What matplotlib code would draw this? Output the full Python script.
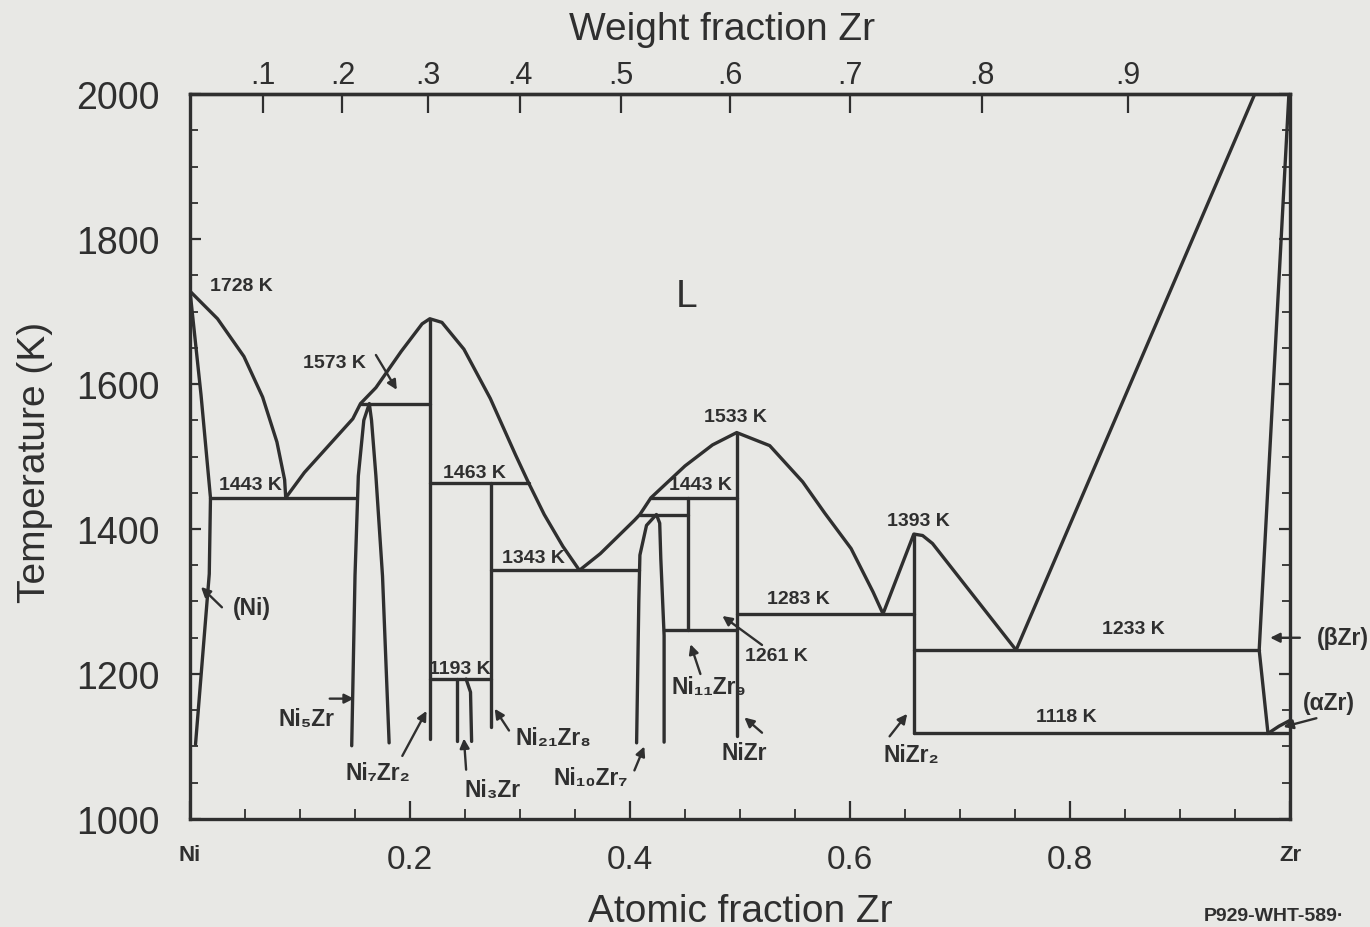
import numpy as np
import matplotlib
matplotlib.use("Agg")
import matplotlib.pyplot as plt

plt.rcParams['font.family'] = ['Liberation Sans', 'DejaVu Sans']

M_NI = 58.693
M_ZR = 91.224

INK = '#2f2f2f'
PAPER = '#e8e8e5'

# liquidus, split at the invariant points
liq_ni_x = [0.0, 0.025, 0.049, 0.066, 0.079, 0.086, 0.087]
liq_ni_T = [1728, 1690, 1638, 1582, 1520, 1468, 1443]
liq_a_x = [0.087, 0.104, 0.126, 0.148, 0.155, 0.169, 0.192, 0.211, 0.218, 0.229, 0.249, 0.273, 0.296, 0.308]
liq_a_T = [1443, 1478, 1515, 1552, 1573, 1595, 1645, 1683, 1690, 1685, 1648, 1580, 1502, 1463]
liq_b_x = [0.308, 0.322, 0.339, 0.354]
liq_b_T = [1463, 1420, 1376, 1343]
liq_c_x = [0.354, 0.373, 0.404, 0.409, 0.419, 0.450, 0.475, 0.497, 0.527, 0.557, 0.577, 0.601, 0.621, 0.630]
liq_c_T = [1343, 1366, 1412, 1420, 1443, 1487, 1516, 1533, 1515, 1465, 1422, 1373, 1313, 1283]
liq_d_x = [0.630, 0.658, 0.666, 0.675, 0.751]
liq_d_T = [1283, 1393, 1391, 1380, 1233]
liq_zr_x = [0.751, 0.968]
liq_zr_T = [1233, 2000]

# (Ni) solid solution: solidus then solvus
ni_ss_x = [0.0, 0.010, 0.0186, 0.0175, 0.005]
ni_ss_T = [1728, 1585, 1443, 1338, 1103]

# (beta Zr) boundary and (alpha Zr) boundary
bzr_x = [0.999, 0.972, 0.980]
bzr_T = [2000, 1233, 1118]
azr_x = [0.980, 0.990, 1.0]
azr_T = [1118, 1128, 1136]

# horizontal invariant lines
inv_T = [1443, 1573, 1463, 1343, 1420, 1443, 1261, 1283, 1193, 1233, 1118]
inv_x0 = [0.0186, 0.155, 0.218, 0.274, 0.409, 0.419, 0.431, 0.497, 0.218, 0.658, 0.658]
inv_x1 = [0.150, 0.218, 0.308, 0.408, 0.453, 0.497, 0.497, 0.658, 0.274, 0.972, 1.0]

# line compounds
cmp_x = [0.218, 0.274, 0.453, 0.497, 0.658]
cmp_top = [1690, 1463, 1443, 1533, 1393]
cmp_bot = [1110, 1127, 1261, 1114, 1118]

# narrow homogeneity ranges
ni5zr_x = [0.147, 0.150, 0.153, 0.158, 0.163, 0.165, 0.169, 0.175, 0.181]
ni5zr_T = [1101, 1336, 1473, 1550, 1573, 1550, 1473, 1335, 1105]
ni10zr7_x = [0.406, 0.408, 0.409, 0.415, 0.424, 0.427, 0.428, 0.431, 0.431]
ni10zr7_T = [1105, 1300, 1364, 1405, 1420, 1408, 1359, 1253, 1106]
ni3zr_l_x = [0.243, 0.243]
ni3zr_l_T = [1107, 1193]
ni3zr_r_x = [0.251, 0.255, 0.256]
ni3zr_r_T = [1193, 1175, 1107]

# temperature labels
val_K = [1728, 1573, 1443, 1463, 1343, 1533, 1443, 1283, 1261, 1393, 1233, 1118, 1193]
val_x = [0.047, 0.131, 0.055, 0.259, 0.312, 0.496, 0.464, 0.553, 0.533, 0.662, 0.858, 0.797, 0.245]
val_T = [1736, 1630, 1462, 1478, 1361, 1555, 1462, 1304, 1225, 1412, 1263, 1141, 1208]

# phase labels with arrows: text position, arrow tail, arrow tip
ph_text = ['(Ni)', 'Ni₅Zr', 'Ni₇Zr₂', 'Ni₃Zr', 'Ni₂₁Zr₈', 'Ni₁₀Zr₇',
           'Ni₁₁Zr₉', 'NiZr', 'NiZr₂', '(βZr)', '(αZr)']
ph_x = [0.056, 0.106, 0.171, 0.275, 0.330, 0.364, 0.472, 0.504, 0.656, 1.048, 1.035]
ph_T = [1292, 1139, 1064, 1041, 1112, 1057, 1183, 1092, 1089, 1250, 1160]
tail_x = [0.029, 0.127, 0.193, 0.251, 0.290, 0.404, 0.464, 0.520, 0.636, 1.009, 1.024]
tail_T = [1292, 1166, 1087, 1068, 1122, 1067, 1200, 1119, 1114, 1250, 1139]
tip_x = [0.010, 0.149, 0.215, 0.249, 0.277, 0.413, 0.455, 0.504, 0.652, 0.982, 0.994]
tip_T = [1320, 1166, 1149, 1111, 1152, 1100, 1241, 1140, 1145, 1250, 1127]

# extra arrows for the 1573 K and 1261 K labels
ext_tail_x = [0.169, 0.520]
ext_tail_T = [1640, 1240]
ext_tip_x = [0.188, 0.484]
ext_tip_T = [1592, 1280]

wt_ticks = [0.1, 0.2, 0.3, 0.4, 0.5, 0.6, 0.7, 0.8, 0.9]


def at_to_wt(x):
    x = np.asarray(x, dtype=float)
    return x * M_ZR / (x * M_ZR + (1 - x) * M_NI)


def wt_to_at(w):
    w = np.asarray(w, dtype=float)
    return (w / M_ZR) / (w / M_ZR + (1 - w) / M_NI)


fig = plt.figure(figsize=(13.7, 9.28), dpi=100, facecolor=PAPER)
ax = fig.add_axes([0.1387, 0.1164, 0.8029, 0.7812], facecolor=PAPER)

line_kw = dict(color=INK, lw=2.4, solid_capstyle='round', solid_joinstyle='round')

for xs, ts in [(liq_ni_x, liq_ni_T), (liq_a_x, liq_a_T), (liq_b_x, liq_b_T),
               (liq_c_x, liq_c_T), (liq_d_x, liq_d_T), (liq_zr_x, liq_zr_T),
               (ni_ss_x, ni_ss_T), (bzr_x, bzr_T), (azr_x, azr_T),
               (ni5zr_x, ni5zr_T), (ni10zr7_x, ni10zr7_T),
               (ni3zr_l_x, ni3zr_l_T), (ni3zr_r_x, ni3zr_r_T)]:
    ax.plot(xs, ts, **line_kw)

for t, x0, x1 in zip(inv_T, inv_x0, inv_x1):
    ax.plot([x0, x1], [t, t], **line_kw)

for x, t0, t1 in zip(cmp_x, cmp_top, cmp_bot):
    ax.plot([x, x], [t0, t1], **line_kw)

for k, x, t in zip(val_K, val_x, val_T):
    ax.text(x, t, f'{k} K', ha='center', va='center', fontsize=14,
            fontweight='bold', color=INK)

arrow_kw = dict(arrowstyle='-|>', color=INK, lw=1.7, mutation_scale=14,
                shrinkA=0, shrinkB=0)

for s, x, t, ax0, at0, ax1, at1 in zip(ph_text, ph_x, ph_T, tail_x, tail_T, tip_x, tip_T):
    ax.text(x, t, s, ha='center', va='center', fontsize=16.5, fontweight='bold',
            color=INK, clip_on=False)
    ax.annotate('', xy=(ax1, at1), xytext=(ax0, at0), arrowprops=arrow_kw,
                annotation_clip=False)

for ax0, at0, ax1, at1 in zip(ext_tail_x, ext_tail_T, ext_tip_x, ext_tip_T):
    ax.annotate('', xy=(ax1, at1), xytext=(ax0, at0), arrowprops=arrow_kw,
                annotation_clip=False)

ax.text(0.451, 1721, 'L', ha='center', va='center', fontsize=28, color=INK)

# axes, ticks
ax.set_xlim(0, 1)
ax.set_ylim(1000, 2000)
ax.set_xticks([0, 0.2, 0.4, 0.6, 0.8, 1.0])
ax.set_xticklabels(['Ni', '0.2', '0.4', '0.6', '0.8', 'Zr'])
ax.set_xticks(np.arange(0, 1.001, 0.05), minor=True)
ax.set_yticks(np.arange(1000, 2001, 200))
ax.set_yticks(np.arange(1000, 2001, 50), minor=True)

ax.tick_params(axis='both', which='both', direction='in', color=INK, labelcolor=INK)
ax.tick_params(axis='x', which='major', length=13, width=1.6, labelsize=24, pad=18)
ax.tick_params(axis='x', which='minor', length=7, width=1.3)
ax.tick_params(axis='y', which='major', length=8, width=1.6, labelsize=27, pad=22, right=True)
ax.tick_params(axis='y', which='minor', length=6, width=1.3, right=True)
for lbl in ax.get_xticklabels():
    if lbl.get_text() in ('Ni', 'Zr'):
        lbl.set_fontsize(16)
        lbl.set_fontweight('bold')

for sp in ax.spines.values():
    sp.set_color(INK)
    sp.set_linewidth(2.4)

sec = ax.secondary_xaxis('top', functions=(at_to_wt, wt_to_at))
sec.set_xticks(wt_ticks)
sec.set_xticklabels(['.' + str(int(round(w * 10))) for w in wt_ticks])
sec.tick_params(direction='in', length=14, width=1.6, pad=3, labelsize=22,
                color=INK, labelcolor=INK)
sec.spines['top'].set_color(INK)
sec.spines['top'].set_linewidth(2.4)

fig.text(722 / 1370, 1 - 30 / 928, 'Weight fraction Zr', ha='center', va='center',
         fontsize=28, color=INK)
fig.text(740 / 1370, 1 - 912 / 928, 'Atomic fraction Zr', ha='center', va='center',
         fontsize=28, color=INK)
fig.text(35 / 1370, 1 - 462 / 928, 'Temperature (K)', ha='center', va='center',
         rotation=90, fontsize=28, color=INK)
fig.text(1274 / 1370, 1 - 917 / 928, 'P929-WHT-589·', ha='center', va='center',
         fontsize=14, fontweight='bold', color=INK)

fig.savefig('out.png', dpi=100, facecolor=PAPER)
